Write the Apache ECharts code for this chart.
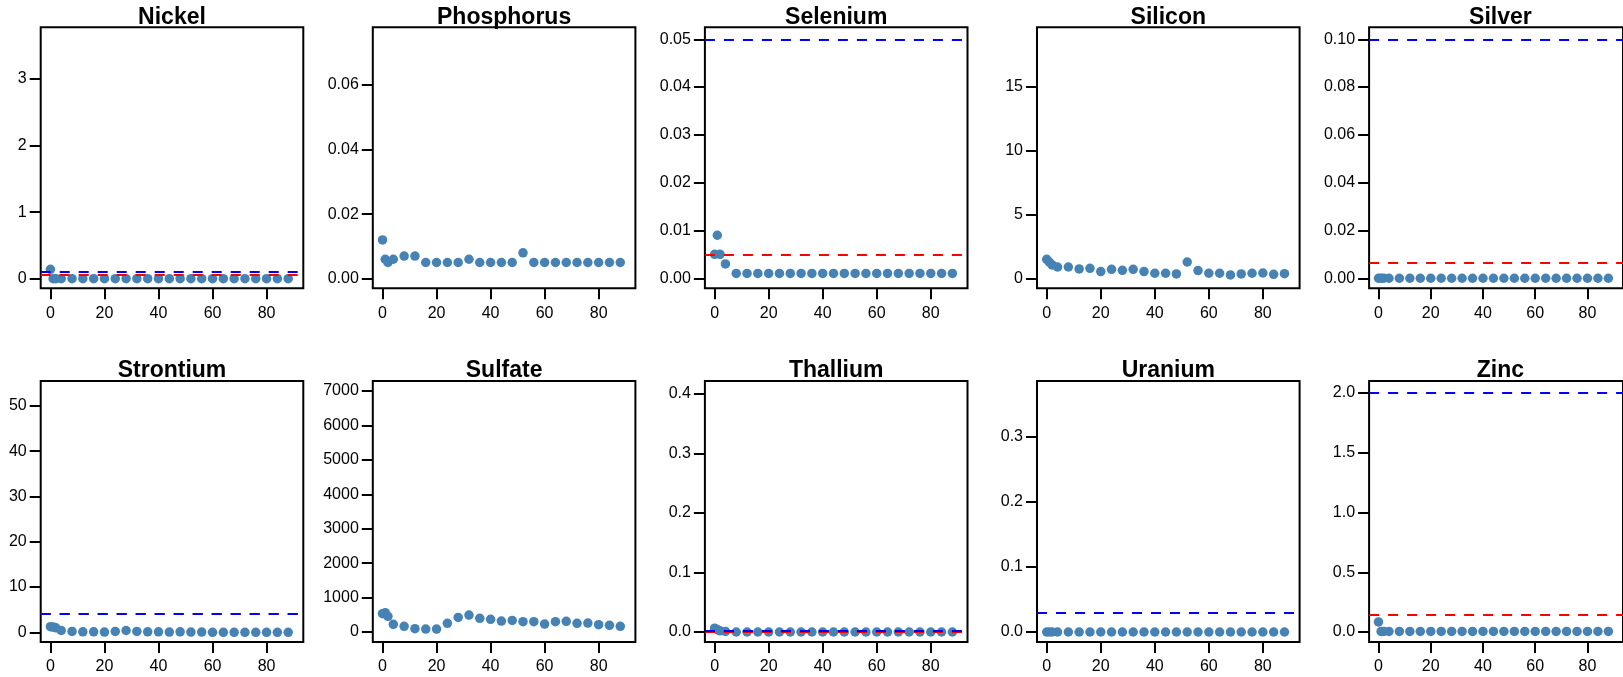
<!DOCTYPE html>
<html><head><meta charset="utf-8">
<script src="https://cdn.jsdelivr.net/npm/echarts@6/dist/echarts.min.js"></script>
<style>html,body{margin:0;padding:0;background:#fff}#c{width:1623px;height:677px}</style>
</head><body><div id="c"></div>
<script>
// ---- data ----
const days = [0,1,2,4,8,12,16,20,24,28,32,36,40,44,48,52,56,60,64,68,72,76,80,84,88];
const xTickValues = [0,20,40,60,80];
const panelNames = ['Nickel','Phosphorus','Selenium','Silicon','Silver','Strontium','Sulfate','Thallium','Uranium','Zinc'];

const nickel     = [0.14,0,0,0,0,0,0,0,0,0,0,0,0,0,0,0,0,0,0,0,0,0,0,0,0];
const phosphorus = [0.012,0.006,0.005,0.006,0.007,0.007,0.005,0.005,0.005,0.005,0.006,0.005,0.005,0.005,0.005,0.008,0.005,0.005,0.005,0.005,0.005,0.005,0.005,0.005,0.005];
const selenium   = [0.005,0.009,0.005,0.003,0.001,0.001,0.001,0.001,0.001,0.001,0.001,0.001,0.001,0.001,0.001,0.001,0.001,0.001,0.001,0.001,0.001,0.001,0.001,0.001,0.001];
const silicon    = [1.51,1.28,1.07,0.91,0.91,0.76,0.81,0.55,0.73,0.65,0.73,0.55,0.42,0.42,0.37,1.30,0.63,0.42,0.42,0.29,0.37,0.42,0.44,0.34,0.39];
const silver     = [0,0,0,0,0,0,0,0,0,0,0,0,0,0,0,0,0,0,0,0,0,0,0,0,0];
const strontium  = [1.25,1.15,1.0,0.4,0.2,0.1,0.1,0.05,0.2,0.4,0.2,0.1,0.1,0.05,0.1,0.05,0.05,0,0,0,0,0,0,0,0];
const sulfate    = [532,561,455,222,164,97,87,87,251,425,493,397,368,319,338,300,300,232,300,309,251,261,213,193,164];
const thallium   = [0.0065,0.004,0.002,0.001,0,0,0,0,0,0,0,0,0,0,0,0,0,0,0,0,0,0,0,0,0];
const uranium    = [0,0,0,0,0,0,0,0,0,0,0,0,0,0,0,0,0,0,0,0,0,0,0,0,0];
const zinc       = [0.084,0.005,0.005,0.005,0.005,0.005,0.005,0.005,0.005,0.005,0.005,0.005,0.005,0.005,0.005,0.005,0.005,0.005,0.005,0.005,0.005,0.005,0.005,0.005,0.005];

const redLimit  = [0.065, null, 0.005, null, 0.0063, 4, null, 0.0005, 0.03, 0.147];
const blueLimit = [0.1,   null, 0.05,  null, 0.1,    4, null, 0.002,  0.03, 2.0];

const yMin = [-0.145, -0.003, -0.0021, -0.757, -0.0042, -2.14, -290, -0.0168, -0.0154, -0.0836];
const yMax = [3.777, 0.0779, 0.0525, 19.66, 0.105, 55.5, 7290, 0.4218, 0.386, 2.101];
const yTickValues = [
  [0,1,2,3],
  [0,0.02,0.04,0.06],
  [0,0.01,0.02,0.03,0.04,0.05],
  [0,5,10,15],
  [0,0.02,0.04,0.06,0.08,0.10],
  [0,10,20,30,40,50],
  [0,1000,2000,3000,4000,5000,6000,7000],
  [0,0.1,0.2,0.3,0.4],
  [0,0.1,0.2,0.3],
  [0,0.5,1.0,1.5,2.0]
];
const yDecimals = [0,2,2,0,2,0,0,1,1,1];
const xMin = -3.6, xMax = 93.6;

const seriesValues = [nickel, phosphorus, selenium, silicon, silver, strontium, sulfate, thallium, uranium, zinc];

// ---- layout ----
const boxLeft0 = 40.7, colStep = 332.1, boxW = 262.6, boxH = 261;
const rowTops = [27.3, 381];
const FONT = '"Liberation Sans", Arial, Helvetica, sans-serif';

const grids = [], xAxes = [], yAxes = [], series = [], titles = [];
panelNames.forEach((name, i) => {
  const col = i % 5, row = Math.floor(i / 5);
  const left = boxLeft0 + col * colStep, top = rowTops[row];
  grids.push({ left: left, top: top, width: boxW, height: boxH, show: true,
    borderColor: '#000', borderWidth: 2, backgroundColor: '#fff', containLabel: false });
  titles.push({ text: name, left: left + boxW / 2, top: top - 21.5, textAlign: 'center', padding: 0,
    textStyle: { fontFamily: FONT, fontWeight: 'bold', fontSize: 23, color: '#000' } });
  xAxes.push({ type: 'value', gridIndex: i, min: xMin, max: xMax, position: 'bottom',
    axisLine: { show: false, onZero: false }, splitLine: { show: false },
    axisTick: { show: true, customValues: xTickValues, length: 11, lineStyle: { color: '#000', width: 2 } },
    axisLabel: { show: true, customValues: xTickValues, margin: 17, color: '#000', fontSize: 16, fontFamily: FONT } });
  yAxes.push({ type: 'value', gridIndex: i, min: yMin[i], max: yMax[i], position: 'left',
    axisLine: { show: false, onZero: false }, splitLine: { show: false },
    axisTick: { show: true, customValues: yTickValues[i], length: 11, lineStyle: { color: '#000', width: 2 } },
    axisLabel: { show: true, customValues: yTickValues[i], margin: 14, color: '#000', fontSize: 16, fontFamily: FONT,
      formatter: (v) => Number(v).toFixed(yDecimals[i]) } });
  const ml = [];
  if (redLimit[i] !== null) ml.push({ yAxis: redLimit[i], lineStyle: { color: '#ff0000' } });
  if (blueLimit[i] !== null) ml.push({ yAxis: blueLimit[i], lineStyle: { color: '#0000ff' } });
  series.push({
    type: 'scatter', xAxisIndex: i, yAxisIndex: i,
    data: days.map((d, k) => [d, seriesValues[i][k]]),
    symbol: 'circle', symbolSize: 9.5,
    itemStyle: { color: '#4682B4', opacity: 1 },
    silent: true, animation: false,
    markLine: ml.length ? {
      silent: true, symbol: ['none', 'none'], animation: false, precision: 8,
      label: { show: false },
      lineStyle: { type: [10, 9], width: 2 },
      emphasis: { disabled: true },
      data: ml
    } : undefined
  });
});

const chart = echarts.init(document.getElementById('c'), null, { renderer: 'canvas' });
chart.setOption({
  backgroundColor: '#fff',
  animation: false,
  title: titles,
  grid: grids,
  xAxis: xAxes,
  yAxis: yAxes,
  series: series
});
</script>
</body></html>
